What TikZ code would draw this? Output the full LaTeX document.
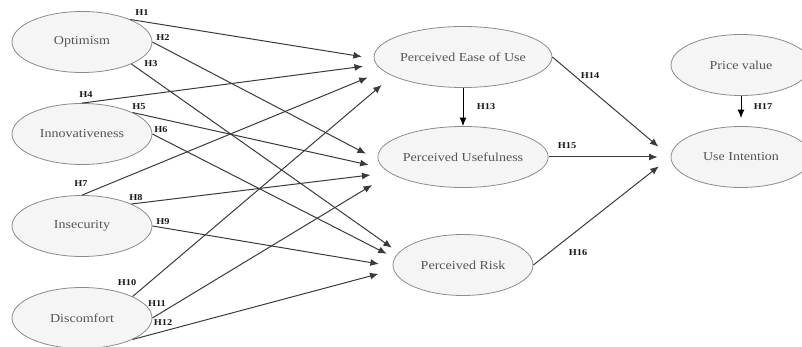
\documentclass[tikz,border=0pt]{standalone}
\usepackage{fontspec}
\setmainfont{Liberation Serif}[FakeStretch=1.15]
\usetikzlibrary{arrows.meta,shapes.geometric}
\definecolor{efill}{HTML}{F5F5F5}
\definecolor{edraw}{HTML}{8C8C8C}
\definecolor{etext}{HTML}{555555}
\definecolor{lnk}{HTML}{3A3A3A}
\begin{document}
\begin{tikzpicture}[x=1pt,y=-1pt,
  construct/.style={ellipse,draw=edraw,fill=efill,line width=0.8pt,
    minimum width=140pt,minimum height=61pt,inner sep=0pt,text=etext,
    font=\fontsize{12.2}{14}\selectfont},
  hyp/.style={font=\bfseries\fontsize{9}{10}\selectfont,text=black!90,inner sep=0pt},
  link/.style={draw=lnk,line width=1pt,-{Latex[length=8.5pt,width=7pt]}},
  vlink/.style={draw=black,line width=1pt,-{Latex[length=8.5pt,width=7pt]}},
]
\useasboundingbox (0,0) rectangle (802,347);
\clip (0,0) rectangle (802,347);

% constructs
\node[construct] (opt)  at (82,42)  {Optimism};
\node[construct] (inn)  at (82,134) {Innovativeness};
\node[construct] (ins)  at (82,226) {Insecurity};
\node[construct] (dis)  at (82,318) {Discomfort};
\node[construct] (peou) at (463,57)  {Perceived Ease of Use};
\node[construct] (pu)   at (463,157) {Perceived Usefulness};
\node[construct] (pr)   at (463,265) {Perceived Risk};
\node[construct] (pv)   at (741,65)  {Price value};
\node[construct] (ui)   at (741,157) {Use Intention};

% to Perceived Ease of Use
\draw[link,shorten >=12pt]   (opt.25) -- (peou.181);
\draw[link,shorten >=13.5pt] (inn.90) -- (peou.185);
\draw[link,shorten >=17pt]   (ins.90) -- (peou.190);
\draw[link,shorten >=14pt]   (dis.23) -- (peou.195);
% to Perceived Usefulness
\draw[link,shorten >=13.5pt] (opt.0)  -- (pu.182);
\draw[link,shorten >=15pt]   (inn.23) -- (pu.188);
\draw[link,shorten >=19pt]   (ins.24) -- (pu.192);
\draw[link,shorten >=22pt]   (dis.0)  -- (pu.193);
% to Perceived Risk
\draw[link,shorten >=8.3pt]  (opt.-24) -- (pr.169);
\draw[link,shorten >=8.8pt]  (inn.0)   -- (pr.174);
\draw[link,shorten >=14pt]   (ins.0)   -- (pr.181);
\draw[link,shorten >=15.5pt] (dis.-23) -- (pr.184);
% to Use Intention
\draw[link,shorten >=16pt] (peou.0) -- (ui.180);
\draw[link,shorten >=13pt] (pu.0)   -- (ui.180);
\draw[link,shorten >=15pt] (pr.0)   -- (ui.180);
% vertical
\draw[vlink] (peou.south) -- (pu.north);
\draw[vlink,shorten >=8pt] (pv.south) -- (ui.north);

% hypothesis labels
\node[hyp] (h1)  at (142,13)  {H1};
\node[hyp] (h2)  at (163,38)  {H2};
\node[hyp] (h3)  at (151,64)  {H3};
\node[hyp] (h4)  at (86,95)   {H4};
\node[hyp] (h5)  at (139,107) {H5};
\node[hyp] (h6)  at (161,130) {H6};
\node[hyp] (h7)  at (81,184)  {H7};
\node[hyp] (h8)  at (136,198) {H8};
\node[hyp] (h9)  at (163,222) {H9};
\node[hyp] (h10) at (127,283) {H10};
\node[hyp] (h11) at (157,304) {H11};
\node[hyp] (h12) at (163,323) {H12};
\node[hyp] (h13) at (486,107) {H13};
\node[hyp] (h14) at (590,76)  {H14};
\node[hyp] (h15) at (567,146) {H15};
\node[hyp] (h16) at (578,253) {H16};
\node[hyp] (h17) at (763,107) {H17};
\end{tikzpicture}
\end{document}
